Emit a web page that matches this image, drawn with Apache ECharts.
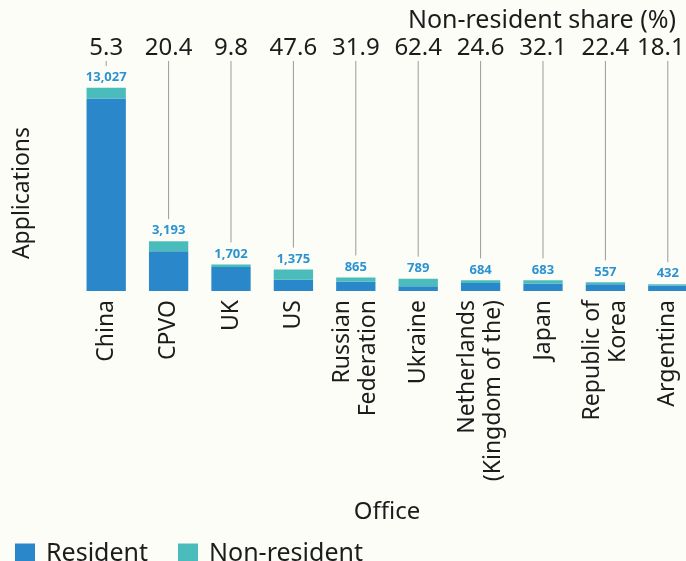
<!DOCTYPE html>
<html><head><meta charset="utf-8">
<script src="https://cdn.jsdelivr.net/npm/echarts@6/dist/echarts.min.js"></script>
<style>html,body{margin:0;padding:0;background:#fdfdf8}#c{width:686px;height:561px}</style>
</head><body><div id="c"></div>
<script>
const categories = ['China','CPVO','UK','US','Russian\nFederation','Ukraine','Netherlands\n(Kingdom of the)','Japan','Republic of\nKorea','Argentina'];
const totals = [13027, 3193, 1702, 1375, 865, 789, 684, 683, 557, 432];
const shareLabels = ['5.3','20.4','9.8','47.6','31.9','62.4','24.6','32.1','22.4','18.1'];
const resident = [12337, 2542, 1535, 721, 589, 297, 516, 464, 432, 354];
const nonResident = [690, 651, 167, 654, 276, 492, 168, 219, 125, 78];

const FONT = 'Noto Sans';
const TXT = '#1c1c1c';
const chart = echarts.init(document.getElementById('c'));
chart.setOption({
  backgroundColor: '#fdfdf8',
  animation: false,
  textStyle: { fontFamily: FONT },
  title: {
    text: 'Non-resident share (%)', right: 5, top: 3,
    textStyle: { fontFamily: FONT, fontSize: 25, fontWeight: 'normal', color: TXT }
  },
  legend: {
    left: 10, top: 536, itemWidth: 20, itemHeight: 20, itemGap: 30, icon: 'rect',
    textStyle: { fontSize: 25, color: TXT, fontFamily: FONT, padding: [0, 0, 0, 6] },
    data: ['Resident', 'Non-resident']
  },
  graphic: [{
    type: 'text', x: 22, y: 193, rotation: Math.PI / 2,
    style: { text: 'Applications', fontSize: 23, fontFamily: FONT, fill: TXT, align: 'center', verticalAlign: 'middle' }
  }],
  grid: { left: 75, width: 624, top: 57, bottom: 270, containLabel: false, outerBoundsMode: 'none' },
  xAxis: [{
    type: 'category', data: categories, position: 'bottom',
    axisLine: { show: false }, axisTick: { show: false },
    axisLabel: { rotate: 90, fontSize: 23, color: TXT, margin: 9, lineHeight: 26, interval: 0 },
    name: 'Office', nameLocation: 'middle', nameGap: 209,
    nameTextStyle: { fontSize: 24, color: TXT }
  }, {
    type: 'category', data: shareLabels, position: 'top',
    axisLine: { show: false }, axisTick: { show: false },
    axisLabel: {
      fontSize: 24, color: TXT, margin: -3, interval: 0,
      formatter: (v, i) => i === shareLabels.length - 1 ? '{last|' + v + '}' : v,
      rich: { last: { fontSize: 24, color: TXT, fontFamily: FONT, padding: [0, 14, 0, 0] } }
    }
  }],
  yAxis: {
    type: 'value', min: 0, max: 15000,
    axisLine: { show: false }, axisTick: { show: false }, axisLabel: { show: false }, splitLine: { show: false }
  },
  series: [{
    name: 'Resident', type: 'bar', stack: 'a', data: resident, barWidth: '63%',
    itemStyle: { color: '#2a87c9' }
  }, {
    name: 'Non-resident', type: 'bar', stack: 'a', data: nonResident, barWidth: '63%',
    itemStyle: { color: '#4bbcbc' },
    label: {
      show: true, position: 'top', distance: 4,
      formatter: p => totals[p.dataIndex].toLocaleString('en-US'),
      fontSize: 13, fontWeight: 'bold', color: '#2b93d2'
    }
  }, {
    name: 'lines', type: 'custom', data: totals.map((v, i) => [i, v]), silent: true,
    renderItem: function (params, api) {
      const p = api.coord([api.value(0), api.value(1)]);
      const top = params.coordSys.y + 4;
      const bottom = p[1] - 22;
      return { type: 'line', shape: { x1: p[0], y1: top, x2: p[0], y2: Math.max(bottom, top + 5) },
        style: { stroke: '#9a9a9a', lineWidth: 1 } };
    }
  }]
});
</script></body></html>
